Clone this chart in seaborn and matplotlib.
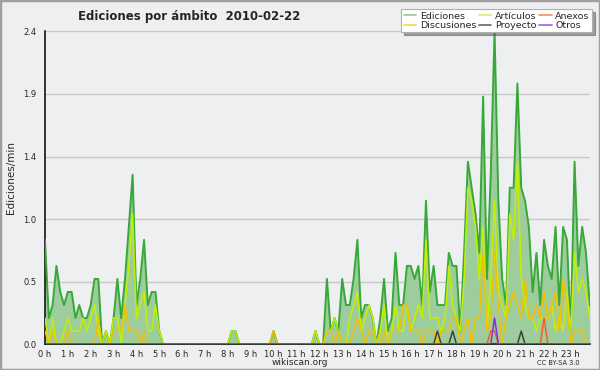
import matplotlib
matplotlib.use("Agg")
import numpy as np
import pandas as pd
import matplotlib.pyplot as plt
from matplotlib.lines import Line2D
from matplotlib.patches import Rectangle
import seaborn as sns

# one value every 10 minutes, one row per hour (edits per minute)
ediciones = [
    0.8, 0.2, 0.3, 0.6, 0.4, 0.3,   # 0 h
    0.4, 0.4, 0.2, 0.3, 0.2, 0.2,   # 1 h
    0.3, 0.5, 0.5, 0.0, 0.1, 0.0,   # 2 h
    0.2, 0.5, 0.2, 0.5, 0.9, 1.3,   # 3 h
    0.3, 0.5, 0.8, 0.3, 0.4, 0.4,   # 4 h
    0.1, 0.0, 0.0, 0.0, 0.0, 0.0,   # 5 h
    0.0, 0.0, 0.0, 0.0, 0.0, 0.0,   # 6 h
    0.0, 0.0, 0.0, 0.0, 0.0, 0.0,   # 7 h
    0.0, 0.1, 0.1, 0.0, 0.0, 0.0,   # 8 h
    0.0, 0.0, 0.0, 0.0, 0.0, 0.0,   # 9 h
    0.1, 0.0, 0.0, 0.0, 0.0, 0.0,   # 10 h
    0.0, 0.0, 0.0, 0.0, 0.0, 0.1,   # 11 h
    0.0, 0.0, 0.5, 0.1, 0.2, 0.1,   # 12 h
    0.5, 0.3, 0.3, 0.5, 0.8, 0.2,   # 13 h
    0.3, 0.3, 0.2, 0.0, 0.2, 0.5,   # 14 h
    0.1, 0.2, 0.7, 0.3, 0.3, 0.6,   # 15 h
    0.6, 0.5, 0.6, 0.3, 1.1, 0.4,   # 16 h
    0.6, 0.3, 0.3, 0.3, 0.7, 0.6,   # 17 h
    0.6, 0.1, 0.7, 1.4, 1.2, 1.0,   # 18 h
    0.7, 1.9, 0.5, 1.3, 2.4, 1.1,   # 19 h
    0.5, 0.3, 1.2, 1.2, 2.0, 1.2,   # 20 h
    1.1, 0.9, 0.4, 0.7, 0.3, 0.8,   # 21 h
    0.6, 0.5, 0.9, 0.3, 0.9, 0.8,   # 22 h
    0.1, 1.4, 0.6, 0.9, 0.7, 0.3,   # 23 h
]

articulos = [
    0.2, 0.0, 0.2, 0.0, 0.0, 0.1,
    0.2, 0.1, 0.1, 0.1, 0.2, 0.1,
    0.2, 0.3, 0.1, 0.0, 0.1, 0.0,
    0.2, 0.2, 0.0, 0.3, 0.6, 1.0,
    0.2, 0.3, 0.4, 0.1, 0.1, 0.3,
    0.1, 0.0, 0.0, 0.0, 0.0, 0.0,
    0.0, 0.0, 0.0, 0.0, 0.0, 0.0,
    0.0, 0.0, 0.0, 0.0, 0.0, 0.0,
    0.0, 0.1, 0.1, 0.0, 0.0, 0.0,
    0.0, 0.0, 0.0, 0.0, 0.0, 0.0,
    0.0, 0.0, 0.0, 0.0, 0.0, 0.0,
    0.0, 0.0, 0.0, 0.0, 0.0, 0.1,
    0.0, 0.0, 0.1, 0.1, 0.2, 0.1,
    0.0, 0.0, 0.2, 0.3, 0.4, 0.1,
    0.2, 0.3, 0.2, 0.0, 0.1, 0.3,
    0.0, 0.1, 0.3, 0.1, 0.1, 0.3,
    0.1, 0.2, 0.3, 0.2, 0.8, 0.2,
    0.2, 0.2, 0.1, 0.2, 0.6, 0.3,
    0.2, 0.1, 0.5, 1.2, 1.1, 0.9,
    0.5, 0.9, 0.1, 0.5, 1.1, 0.4,
    0.3, 0.2, 1.0, 0.8, 1.4, 0.5,
    0.3, 0.2, 0.2, 0.1, 0.2, 0.2,
    0.2, 0.3, 0.1, 0.2, 0.1, 0.4,
    0.1, 0.7, 0.4, 0.5, 0.4, 0.2,
]

discusiones = [
    0.1, 0.0, 0.1, 0.0, 0.0, 0.0,
    0.1, 0.0, 0.0, 0.0, 0.0, 0.0,
    0.0, 0.0, 0.2, 0.0, 0.0, 0.0,
    0.1, 0.1, 0.1, 0.3, 0.1, 0.1,
    0.1, 0.0, 0.1, 0.0, 0.0, 0.0,
    0.0, 0.0, 0.0, 0.0, 0.0, 0.0,
    0.0, 0.0, 0.0, 0.0, 0.0, 0.0,
    0.0, 0.0, 0.0, 0.0, 0.0, 0.0,
    0.0, 0.0, 0.0, 0.0, 0.0, 0.0,
    0.0, 0.0, 0.0, 0.0, 0.0, 0.0,
    0.1, 0.0, 0.0, 0.0, 0.0, 0.0,
    0.0, 0.0, 0.0, 0.0, 0.0, 0.0,
    0.0, 0.0, 0.1, 0.1, 0.0, 0.1,
    0.0, 0.0, 0.0, 0.1, 0.2, 0.1,
    0.0, 0.1, 0.1, 0.0, 0.0, 0.1,
    0.0, 0.1, 0.1, 0.1, 0.3, 0.3,
    0.1, 0.1, 0.1, 0.0, 0.1, 0.1,
    0.1, 0.0, 0.1, 0.1, 0.1, 0.2,
    0.2, 0.0, 0.1, 0.2, 0.0, 0.2,
    0.2, 0.7, 0.1, 0.2, 0.7, 0.3,
    0.0, 0.2, 0.3, 0.4, 0.3, 0.2,
    0.5, 0.2, 0.2, 0.3, 0.2, 0.4,
    0.2, 0.3, 0.4, 0.1, 0.5, 0.3,
    0.0, 0.1, 0.1, 0.1, 0.0, 0.0,
]

# sparse series: slot index (10-min step) -> value, zero elsewhere
anexos_pts = {117: 0.1, 118: 0.1, 131: 0.2}
proyecto_pts = {103: 0.1, 107: 0.1, 125: 0.1}
otros_pts = {118: 0.2}

hour_labels = [f"{h} h" for h in range(24)]
y_ticks = [0.0, 0.48, 0.96, 1.44, 1.92, 2.4]

n = len(ediciones)
slot = np.arange(n)


def expand(points):
    vals = np.zeros(n)
    for k, v in points.items():
        vals[k] = v
    return vals


df = pd.DataFrame({
    "slot": slot,
    "Ediciones": ediciones,
    "Artículos": articulos,
    "Discusiones": discusiones,
    "Anexos": expand(anexos_pts),
    "Proyecto": expand(proyecto_pts),
    "Otros": expand(otros_pts),
})

line_colors = {
    "Ediciones": "#38a838",
    "Artículos": "#c4f000",
    "Discusiones": "#f5c000",
    "Anexos": "#ff5a1e",
    "Proyecto": "#404040",
    "Otros": "#8a2be2",
}
legend_colors = {
    "Ediciones": "#8fd08f",
    "Artículos": "#d4ef7a",
    "Anexos": "#ff8a5c",
    "Discusiones": "#ffd24a",
    "Proyecto": "#666666",
    "Otros": "#9b5cf0",
}

bg = "#eeeff1"
sns.set_theme(style="white")
plt.rcParams["font.family"] = ["DejaVu Sans"]

fig = plt.figure(figsize=(6, 3.7), dpi=100, facecolor=bg)
ax = fig.add_axes([0.075, 0.07, 0.908, 0.845])
ax.set_facecolor(bg)

for y in y_ticks[1:]:
    ax.axhline(y, color="#c8c8c8", lw=1, zorder=0)

ax.fill_between(df["slot"], df["Ediciones"], color="#9dcd9d", lw=0, zorder=1)
sns.lineplot(data=df, x="slot", y="Ediciones", ax=ax, color=line_colors["Ediciones"], lw=1.4, zorder=3)
for name in ["Artículos", "Discusiones", "Proyecto", "Anexos", "Otros"]:
    sns.lineplot(data=df, x="slot", y=name, ax=ax, color=line_colors[name], lw=1.1, zorder=4)

ax.set_xlim(0, n - 1)
ax.set_ylim(0, 2.4)
ax.set_xticks(np.arange(0, n, 6))
ax.set_xticklabels(hour_labels)
ax.set_xticks(slot, minor=True)
ax.set_yticks(y_ticks)
ax.set_yticklabels([f"{v:.1f}" for v in y_ticks])
ax.set_yticks(np.arange(0, 2.41, 0.12), minor=True)
ax.tick_params(axis="both", which="both", direction="out", color="black", width=0.8, labelsize=6, pad=1)
ax.tick_params(axis="x", which="both", length=3.5)
ax.tick_params(axis="y", which="major", length=5)
ax.tick_params(axis="y", which="minor", length=3)
ax.set_xlabel("")
ax.set_ylabel("")
for side in ["top", "right"]:
    ax.spines[side].set_visible(False)
for side in ["left", "bottom"]:
    ax.spines[side].set_color("black")
    ax.spines[side].set_linewidth(1.1)

fig.text(0.315, 0.955, "Ediciones por ámbito  2010-02-22", ha="center", va="center",
         fontsize=8.5, fontweight="bold")
fig.text(0.018, 0.52, "Ediciones/min", rotation=90, ha="center", va="center", fontsize=7.5)
fig.text(0.5, 0.02, "wikiscan.org", ha="center", va="center", fontsize=6.5)
fig.text(0.93, 0.02, "CC BY-SA 3.0", ha="center", va="center", fontsize=4.8)

order = ["Ediciones", "Discusiones", "Artículos", "Proyecto", "Anexos", "Otros"]
handles = [Line2D([0], [0], color=legend_colors[k], lw=1.2) for k in order]
leg = fig.legend(handles, order, loc="upper right", bbox_to_anchor=(0.99, 0.98), ncol=3,
                 fontsize=6.8, frameon=True, fancybox=False, shadow=True, borderpad=0.25,
                 labelspacing=0.05, handlelength=1.3, handletextpad=0.4, columnspacing=0.3,
                 borderaxespad=0.2)
leg.get_frame().set_edgecolor("#b0b0b0")
leg.get_frame().set_facecolor("white")
leg.get_frame().set_linewidth(0.8)

fig.patches.append(Rectangle((0, 0), 1, 1, transform=fig.transFigure, fill=False,
                             edgecolor="#a0a0a0", lw=2.5))

fig.savefig("out.png", dpi=100, facecolor=bg)
